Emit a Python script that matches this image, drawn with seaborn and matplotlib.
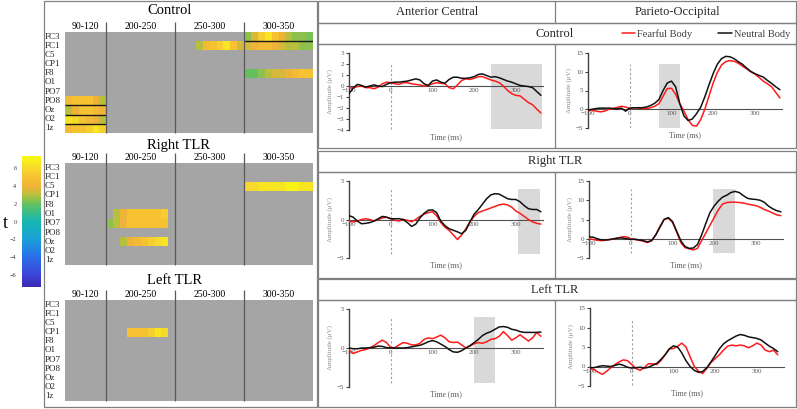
import numpy as np
import pandas as pd
import matplotlib
matplotlib.use("Agg")
import matplotlib.pyplot as plt
import matplotlib.transforms as mtrans
import seaborn as sns
from matplotlib.colors import LinearSegmentedColormap
from matplotlib.lines import Line2D
from matplotlib.patches import Rectangle

# ---------------- t-maps (5 ms bins) ----------------
electrodes = ["FC3", "FC1", "C5", "CP1", "F8", "O1", "PO7", "PO8", "Oz", "O2", "1z"]
windows = ["90-120", "200-250", "250-300", "300-350"]
bins_ms = [90, 95, 100, 105, 110, 115] + list(range(200, 350, 5))

# (electrode, first bin, t values)
control_t = [
    ("FC3", 300, [2.5, 3.5, 5.5, 6.5, 5.0, 4.0, 3.0, 2.5, 2.5, 2.3]),
    ("FC1", 265, [3.0, 4.5, 5.0, 5.5, 6.5, 5.0, 3.5, 3.5, 4.0, 4.5, 4.5, 4.0, 3.5, 3.0, 3.0, 2.5, 2.5]),
    ("F8", 300, [2.0, 2.0, 2.5, 3.0, 3.5, 3.5, 4.0, 4.5, 5.0, 5.0]),
    ("PO8", 90, [4.5, 5.0, 5.0, 5.0, 4.0, 3.0]),
    ("Oz", 90, [3.0, 4.0, 5.0, 5.0, 4.5, 4.0]),
    ("O2", 90, [6.5, 6.0, 5.0, 4.5, 4.0, 3.0]),
    ("1z", 90, [4.5, 5.0, 5.0, 5.5, 6.5, 5.5]),
]
right_tlr_t = [
    ("C5", 300, [6.0, 6.0, 6.5, 6.5, 6.5, 6.5, 7.0, 7.0, 6.5, 6.5]),
    ("O1", 205, [3.0, 4.0, 5.0, 5.0, 5.0, 5.0, 5.0, 5.5]),
    ("PO7", 200, [2.5, 3.0, 4.0, 5.0, 5.0, 5.0, 5.0, 5.0, 5.0]),
    ("Oz", 210, [3.0, 4.0, 4.5, 5.0, 5.5, 6.0, 6.5]),
]
left_tlr_t = [
    ("CP1", 215, [5.0, 5.0, 5.0, 5.5, 6.5, 6.0]),
]
control_seps = [("FC3", "FC1"), ("PO8", "Oz"), ("Oz", "O2"), ("O2", "1z")]

# parula-like scale
cbar_vals = [-7.4, -6, -4, -2, 0, 2, 3, 4, 5, 6, 7.4]
cbar_cols = ["#3a2bb0", "#3c45d8", "#2a70e8", "#1ba0d8", "#16b8b2", "#62c15e",
             "#b8c03e", "#f0b23a", "#f6c232", "#f7d82c", "#f8fa10"]

# ---------------- ERP waveforms (uV), 10 ms steps ----------------
time_ms = list(range(-100, 361, 10))
time_ms_short = list(range(-100, 351, 10))

ac_ctrl_fear = [-0.2, -0.15, -0.05, 0.0, -0.15, -0.15, -0.25, -0.1, 0.2, 0.35,
                0.3, 0.2, 0.15, 0.3, 0.3, 0.2, 0.15, 0.1, 0.0, 0.05,
                0.2, 0.3, 0.25, 0.2, -0.15, -0.25, 0.1, 0.5, 0.65, 0.6,
                0.7, 0.85, 0.85, 0.7, 0.55, 0.45, 0.3, 0.0, -0.4, -0.7,
                -0.85, -0.9, -1.2, -1.5, -1.7, -2.1, -2.45]
ac_ctrl_neut = [-0.7, -0.2, 0.15, 0.05, -0.1, 0.0, 0.1, 0.0, -0.05, 0.15,
                0.3, 0.35, 0.35, 0.4, 0.45, 0.55, 0.65, 0.55, 0.2, 0.05,
                0.45, 0.55, 0.35, 0.25, 0.6, 0.8, 0.8, 0.7, 0.7, 0.75,
                0.85, 1.05, 1.1, 0.95, 0.8, 0.85, 0.75, 0.6, 0.45, 0.35,
                0.2, 0.05, 0.0, -0.05, -0.15, -0.5, -0.85]
po_ctrl_fear = [-0.3, -0.3, -0.5, -0.7, -0.5, 0.0, 0.2, 0.5, 0.8, 0.6,
                0.2, 0.4, 0.3, 0.2, 0.2, 0.4, 0.8, 1.5, 3.5, 5.5,
                5.6, 4.0, 1.5, -0.5, -2.8, -4.3, -4.5, -2.8, 0.0, 3.5,
                7.0, 9.8, 11.8, 12.7, 13.0, 12.8, 12.3, 11.5, 10.8, 10.0,
                9.4, 8.5, 7.5, 6.8, 6.0, 4.5, 3.0]
po_ctrl_neut = [-0.2, 0.0, 0.2, 0.3, 0.3, 0.3, 0.2, 0.1, 0.3, -0.5,
                0.3, 0.4, 0.4, 0.4, 0.6, 1.0, 1.6, 2.6, 5.0, 7.0,
                7.5, 6.0, 1.5, -1.8, -3.0, -2.6, -1.2, 0.5, 3.3, 6.5,
                9.5, 12.0, 13.5, 14.1, 14.0, 13.5, 12.7, 12.0, 11.0, 10.1,
                9.5, 9.0, 8.6, 7.7, 6.9, 6.0, 5.2]
ac_right_fear = [-0.2, -0.3, -0.2, 0.0, 0.1, 0.0, -0.2, 0.0, 0.2, 0.3,
                 0.1, -0.1, -0.2, 0.0, -0.1, -0.3, 0.0, 0.4, 0.7, 0.9,
                 1.0, 0.5, -0.4, -1.0, -1.4, -2.0, -2.6, -2.0, -1.2, -0.3,
                 0.4, 0.9, 1.1, 1.3, 1.5, 1.7, 1.9, 2.0, 1.9, 1.6,
                 1.1, 0.8, 0.4, 0.0, -0.3, -0.5, -0.6]
ac_right_neut = [0.5, 0.3, -0.2, -0.55, -0.5, -0.4, -0.2, 0.1, 0.4, 0.3,
                 0.1, 0.1, 0.1, 0.0, -0.4, -0.9, -0.6, 0.2, 0.8, 1.2,
                 1.25, 0.9, -0.2, -0.8, -1.2, -1.4, -1.6, -1.85, -1.4, -0.3,
                 0.7, 1.3, 2.0, 2.7, 3.2, 3.35, 3.3, 3.0, 2.7, 2.6,
                 2.6, 2.3, 1.8, 1.4, 1.3, 1.3, 1.0]
po_right_fear = [0.0, -0.2, -0.4, -0.5, -0.4, -0.2, 0.0, 0.2, 0.5, 0.5,
                 0.0, -0.2, -0.4, -0.6, -1.0, -0.5, 1.0, 3.2, 5.0, 5.3,
                 4.3, 1.8, -1.0, -2.3, -2.6, -2.9, -2.5, -0.5, 1.5, 3.5,
                 5.5, 7.5, 9.0, 9.4, 9.5, 9.5, 9.4, 9.3, 9.0, 8.8,
                 8.6, 8.2, 7.6, 7.2, 6.7, 6.2, 6.0]
po_right_neut = [0.5, 0.4, 0.0, -0.3, -0.3, -0.2, 0.0, 0.2, 0.2, 0.0,
                 -0.2, -0.1, -0.3, -0.5, -0.8, -0.5, 1.0, 3.0, 5.0, 5.5,
                 4.5, 2.0, -0.5, -2.0, -2.5, -2.4, -1.5, 1.0, 4.0, 6.8,
                 8.5, 9.8, 10.8, 11.3, 12.0, 12.3, 12.0, 11.2, 10.5, 10.3,
                 10.2, 10.0, 9.5, 8.5, 7.8, 7.3, 7.0]
ac_left_fear = [-0.3, -0.7, -0.5, -0.3, -0.2, 0.0, 0.3, 0.7, 1.0, 0.7,
                0.05, 0.05, 0.4, 0.7, 0.6, 0.4, 0.4, 0.6, 1.1, 1.3,
                1.2, 1.4, 1.65, 1.3, 0.8, 0.7, 0.75, 0.4, 0.0, 0.25,
                0.55, 0.7, 0.6, 0.8, 1.1, 1.2, 1.5, 2.1, 1.6, 1.0,
                1.3, 1.7, 1.3, 0.9, 1.3, 2.0, 1.5]
ac_left_neut = [0.0, -0.1, -0.1, 0.0, 0.0, 0.05, 0.1, 0.25, 0.2, 0.05,
                0.0, 0.0, 0.0, 0.0, 0.05, 0.15, 0.25, 0.35, 0.55, 0.8,
                0.95, 0.8, 0.5, 0.2, -0.2, -0.5, -0.55, -0.35, 0.0, 0.3,
                0.7, 1.1, 1.6, 1.9, 2.1, 2.4, 2.7, 2.75, 2.65, 2.4,
                2.3, 2.1, 2.0, 2.0, 2.0, 2.0, 2.05]
po_left_fear = [-0.5, -0.8, -1.5, -2.0, -1.2, -0.3, 0.5, 1.2, 1.7, 1.5,
                0.5, -0.5, -1.0, -0.3, 0.7, 0.7, 0.5, 1.5, 3.0, 4.5,
                4.6, 5.2, 6.0, 5.0, 2.5, 0.0, -1.2, -1.8, -0.5, 1.0,
                2.0, 3.0, 4.2, 5.2, 5.5, 5.3, 5.5, 5.3, 4.8, 5.3,
                6.0, 5.5, 4.2, 3.8, 4.2, 3.0]
po_left_neut = [-0.3, -0.3, 0.0, 0.2, 0.1, 0.0, 0.3, 0.6, 0.3, -0.2,
                -0.4, -0.3, -0.2, -0.4, -0.2, 0.3, 0.8, 1.8, 3.0, 4.5,
                5.3, 5.0, 3.5, 1.5, 0.0, -1.0, -1.5, -1.3, -0.3, 1.2,
                2.8, 4.5, 5.8, 6.6, 7.2, 7.8, 8.2, 8.0, 7.6, 7.4,
                7.2, 6.8, 6.0, 5.2, 4.6, 3.8]

# analysed windows (ms) shaded grey
ac_ctrl_win = (240, 362)
po_ctrl_win = (70, 120)
ac_right_win = (305, 357)
po_right_win = (198, 250)
ac_left_win = (200, 251)

conds = ["Fearful Body", "Neutral Body"]
pal = {"Fearful Body": "#ff1a1a", "Neutral Body": "#111111"}

# ---------------- figure ----------------
sns.set_theme(style="white")
plt.rcParams["font.family"] = ["Liberation Serif", "DejaVu Serif"]

W, H = 797, 409
fig = plt.figure(figsize=(W / 100, H / 100), dpi=100)
fig.patch.set_facecolor("white")


def px_axes(x1, y1, x2, y2):
    return fig.add_axes([x1 / W, 1 - y2 / H, (x2 - x1) / W, (y2 - y1) / H])


# background canvas for frames and titles (pixel coords)
bg = fig.add_axes([0, 0, 1, 1])
bg.set_xlim(0, W)
bg.set_ylim(H, 0)
bg.axis("off")

frame_kw = dict(fill=False, ec="#808080", lw=0.9)
bg.add_patch(Rectangle((44, 1), 273, 406, **frame_kw))
for (x1, y1, x2, y2) in [(318, 1, 796, 23), (318, 23, 796, 44), (318, 44, 796, 148),
                         (318, 151, 796, 172), (318, 172, 796, 278),
                         (318, 279, 796, 300), (318, 300, 796, 407)]:
    bg.add_patch(Rectangle((x1, y1), x2 - x1, y2 - y1, **frame_kw))
for (y1, y2) in [(1, 23), (44, 148), (172, 278), (300, 407)]:
    bg.plot([555, 555], [y1, y2], color="#808080", lw=0.9)

for txt, y in [("Control", 11), ("Right TLR", 145), ("Left TLR", 280)]:
    bg.text(147, y, txt, ha="left", va="center", fontsize=10.5, color="black")
bg.text(437, 12, "Anterior Central", ha="center", va="center", fontsize=9, color="#262626")
bg.text(677, 12, "Parieto-Occipital", ha="center", va="center", fontsize=9, color="#262626")
for txt, y in [("Control", 34), ("Right TLR", 161), ("Left TLR", 290)]:
    bg.text(555, y, txt, ha="center", va="center", fontsize=9, color="#262626")
bg.text(5, 223, "t", ha="center", va="center", fontsize=13, color="black")

parula = LinearSegmentedColormap.from_list(
    "parula_like",
    [((v - cbar_vals[0]) / (cbar_vals[-1] - cbar_vals[0]), c) for v, c in zip(cbar_vals, cbar_cols)])


def draw_tmap(ax, cells, seps=()):
    m = np.full((len(electrodes), len(bins_ms)), np.nan)
    for el, start, vals in cells:
        i = electrodes.index(el)
        j = bins_ms.index(start)
        m[i, j:j + len(vals)] = vals
    df = pd.DataFrame(m, index=electrodes, columns=bins_ms)
    sns.heatmap(df, ax=ax, cmap=parula, vmin=cbar_vals[0], vmax=cbar_vals[-1],
                cbar=False, xticklabels=False, yticklabels=electrodes)
    ax.set_facecolor("#a5a5a5")
    ax.set_xlabel("")
    ax.set_ylabel("")
    ax.tick_params(axis="y", length=0, pad=14.4, labelsize=6.5)
    for lab in ax.get_yticklabels():
        lab.set_ha("left")
        lab.set_rotation(0)
    for a, b in seps:
        i = electrodes.index(a)
        both = np.where(~np.isnan(m[i]) & ~np.isnan(m[i + 1]))[0]
        ax.hlines(i + 1, both.min(), both.max() + 1, colors="#1a1a1a", lw=1.0)
    edges = [bins_ms.index(int(w.split("-")[0])) for w in windows] + [len(bins_ms)]
    ax.vlines(edges[1:-1], -1.1, len(electrodes), colors="#5a5a5a", lw=0.9, clip_on=False)
    for k, w in enumerate(windows):
        ax.text((edges[k] + edges[k + 1]) / 2, -0.55, w, ha="center", va="center",
                fontsize=7, color="black", clip_on=False)


ax_c = px_axes(65, 32, 313, 133)
draw_tmap(ax_c, control_t, control_seps)
ax_r = px_axes(65, 163, 313, 265)
draw_tmap(ax_r, right_tlr_t)
ax_l = px_axes(65, 300, 313, 401)
draw_tmap(ax_l, left_tlr_t)

cax = px_axes(22, 156, 41, 287)
cb = fig.colorbar(ax_c.collections[0], cax=cax, ticks=list(range(-6, 7, 2)))
cb.outline.set_visible(False)
cax.yaxis.set_ticks_position("left")
cax.tick_params(labelsize=4.5, length=0, pad=4, colors="#333333")


def draw_erp(ax, t, fear, neut, ylim, yticks, win, dash):
    df = pd.DataFrame({"time": t + t, "amp": fear + neut,
                       "cond": [conds[0]] * len(t) + [conds[1]] * len(t)})
    if win is not None:
        ax.add_patch(Rectangle((win[0], dash[0]), win[1] - win[0], dash[1] - dash[0],
                               fc="#d9d9d9", ec="none", zorder=0))
    ax.vlines(0, dash[0], dash[1], colors="#a0a0a0", linestyles=(0, (2, 2)), lw=0.8, zorder=1)
    sns.lineplot(data=df, x="time", y="amp", hue="cond", hue_order=conds, palette=pal,
                 ax=ax, legend=False, lw=1.1, estimator=None, sort=False, zorder=3)
    ax.set_facecolor("none")
    ax.set_xlim(-100, 365)
    ax.set_ylim(*ylim)
    ax.set_xticks([-100, 0, 100, 200, 300])
    ax.set_yticks(yticks)
    ax.set_xlabel("")
    ax.set_ylabel("")
    for s in ["top", "right"]:
        ax.spines[s].set_visible(False)
    ax.spines["bottom"].set_position(("data", 0))
    ax.spines["bottom"].set_color("#505050")
    ax.spines["bottom"].set_linewidth(0.8)
    ax.spines["left"].set_color("#404040")
    ax.spines["left"].set_linewidth(1.0)
    ax.tick_params(axis="x", length=0, pad=1.5, labelsize=5, labelcolor="#595959")
    ax.tick_params(axis="y", length=2, width=0.8, color="#404040", pad=1.5,
                   labelsize=5, labelcolor="#595959", left=True)
    tr_x = mtrans.offset_copy(ax.transAxes, fig=fig, x=0, y=-7, units="dots")
    ax.text(0.5, 0, "Time (ms)", transform=tr_x, ha="center", va="center",
            fontsize=5.5, color="#595959")
    tr_y = mtrans.offset_copy(ax.transAxes, fig=fig, x=-19, y=0, units="dots")
    ax.text(0, 0.5, "Amplitude (\u03bcV)", transform=tr_y, ha="center", va="center",
            rotation=90, fontsize=5, color="#8c8c8c")


ac_ticks_ctrl = [-4, -3, -2, -1, 0, 1, 2, 3]
ac_ticks = [-5, 0, 5]
po_ticks = [-5, 0, 5, 10, 15]

draw_erp(px_axes(349, 53, 543, 130), time_ms, ac_ctrl_fear, ac_ctrl_neut,
         (-4, 3), ac_ticks_ctrl, ac_ctrl_win, (-3.9, 2.0))
draw_erp(px_axes(588, 53, 782, 128), time_ms, po_ctrl_fear, po_ctrl_neut,
         (-5, 15), po_ticks, po_ctrl_win, (-5, 12.2))
draw_erp(px_axes(349, 181, 543, 258), time_ms, ac_right_fear, ac_right_neut,
         (-5, 5), ac_ticks, ac_right_win, (-4.5, 3.95))
draw_erp(px_axes(589, 181, 783, 258), time_ms, po_right_fear, po_right_neut,
         (-5, 15), po_ticks, po_right_win, (-3.7, 13))
draw_erp(px_axes(349, 309, 543, 387), time_ms, ac_left_fear, ac_left_neut,
         (-5, 5), ac_ticks, ac_left_win, (-4.5, 4.0))
draw_erp(px_axes(590, 308, 784, 386), time_ms_short, po_left_fear, po_left_neut,
         (-5, 15), po_ticks, None, (-4.7, 12))

handles = [Line2D([], [], color=pal[c], lw=1.1) for c in conds]
fig.legend(handles, conds, loc="center", bbox_to_anchor=(706 / W, 1 - 34 / H), ncol=2,
           frameon=False, prop={"size": 7.5}, handlelength=1.3, handletextpad=0.2,
           columnspacing=2.5, labelcolor="#404040")

fig.savefig("out.png", dpi=100)
